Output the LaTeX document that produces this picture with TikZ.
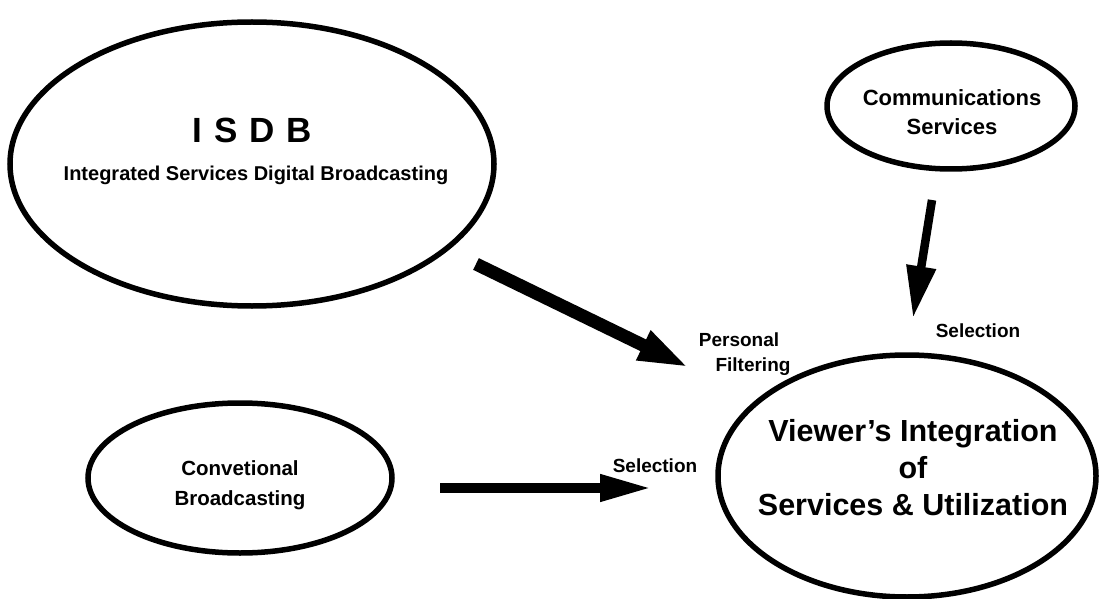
\documentclass[tikz,border=0pt]{standalone}
\usepackage{fontspec}
\setmainfont{Liberation Sans}
\usetikzlibrary{shapes.geometric,arrows.meta}
\tikzset{
  oval/.style={draw=black, line width=5.5pt, ellipse, inner sep=0pt},
  txt/.style={font=\bfseries, align=center, inner sep=0pt},
  lbl/.style={txt, font=\bfseries\fontsize{19}{22}\selectfont},
}
\begin{document}
\begin{tikzpicture}[x=1pt,y=-1pt]
\useasboundingbox (0,0) rectangle (1101,599);
% ovals
\node[oval, minimum width=484pt, minimum height=284pt] (isdb) at (252,164) {};
\node[oval, minimum width=248pt, minimum height=126pt] (comm) at (951,106) {};
\node[oval, minimum width=304pt, minimum height=150pt] (conv) at (240,478) {};
\node[oval, minimum width=378pt, minimum height=242pt] (view) at (907,476) {};
% texts
\node[txt, font=\bfseries\fontsize{35}{40}\selectfont] (isdbT) at (252,130) {I\,\,S\,\,D\,\,B};
\node[txt, font=\bfseries\fontsize{20}{22}\selectfont] (isdbS) at (256,175) {Integrated Services Digital Broadcasting};
\node[txt, font=\bfseries\fontsize{22}{29}\selectfont] (commT) at (952,112) {Communications\\Services};
\node[txt, font=\bfseries\fontsize{20.5}{30}\selectfont] (convT) at (240,485) {Convetional\\Broadcasting};
\node[txt, font=\bfseries\fontsize{30.5}{37}\selectfont] (viewT) at (913,468) {Viewer's Integration\\of\\Services \& Utilization};
% arrow ends
\coordinate (a1s) at (476,264);
\coordinate (a1e) at (690,368);
\coordinate (a2s) at (932,200);
\coordinate (a2e) at (913,318);
\coordinate (a3s) at (440,488);
\coordinate (a3e) at (652,488);
\draw[line width=13pt, -{Triangle[length=52pt 0, width=29pt 0]}] (a1s) -- (a1e);
\draw[line width=8.5pt, -{Triangle[length=52pt 0, width=28pt 0]}] (a2s) -- (a2e);
\draw[line width=10pt, -{Triangle[length=52pt 0, width=25pt 0]}] (a3s) -- (a3e);
% labels
\node[lbl] (pers) at (739,340) {Personal};
\node[lbl] (filt) at (753,367) {Filtering};
\node[lbl] (sel1) at (978,331) {Selection};
\node[lbl] (sel2) at (655,466) {Selection};
\end{tikzpicture}
\end{document}
